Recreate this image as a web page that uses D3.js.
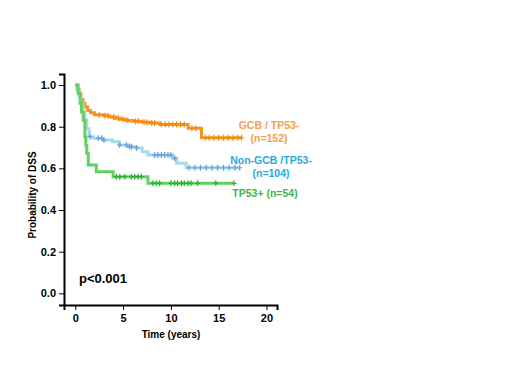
<!DOCTYPE html>
<html>
<head>
<meta charset="utf-8">
<script src="https://cdn.jsdelivr.net/npm/d3@7"></script>
<style>
  body { margin: 0; background: #fff; }
  svg { display: block; font-family: "Liberation Sans", Arial, sans-serif; }
</style>
</head>
<body>
<svg id="drawing_region"></svg>
<script>
// Kaplan-Meier steps: [time (years), survival]
const gcbSteps = [[0, 1.0], [0.2, 0.98], [0.4, 0.955], [0.6, 0.93], [0.8, 0.912], [1.0, 0.895],
  [1.3, 0.878], [1.6, 0.867], [2.0, 0.857], [3.0, 0.852], [3.6, 0.846], [4.2, 0.840],
  [4.7, 0.836], [5.3, 0.830], [6.0, 0.826], [7.0, 0.821], [7.8, 0.818], [8.8, 0.811],
  [11.8, 0.792], [13.2, 0.747], [17.4, 0.747]];
const gcbCensor = [2.5, 3.1, 3.4, 4.0, 4.5, 5.0, 5.5, 6.3, 6.6, 7.2, 7.5, 8.0, 8.3, 9.0, 9.4,
  9.8, 10.2, 10.6, 11.0, 11.4, 12.2, 12.6, 13.6, 14.0, 14.5, 15.0, 15.5, 16.0, 16.5, 17.0, 17.4];

const nonGcbSteps = [[0, 1.0], [0.2, 0.975], [0.4, 0.945], [0.6, 0.91], [0.8, 0.87], [1.0, 0.832],
  [1.2, 0.79], [1.45, 0.752], [1.9, 0.744], [2.9, 0.736], [3.9, 0.728], [4.6, 0.712],
  [5.5, 0.704], [6.4, 0.698], [7.0, 0.680], [7.6, 0.664], [10.2, 0.648], [10.6, 0.624],
  [11.6, 0.603], [17.2, 0.603]];
const nonGcbCensor = [1.55, 2.4, 2.75, 3.0, 4.65, 5.35, 5.7, 5.9, 6.4, 8.3, 8.65, 9.0, 9.35,
  9.7, 10.0, 10.4, 11.9, 12.5, 13.1, 13.7, 14.3, 14.9, 15.5, 16.1, 16.7, 17.2];

const tp53Steps = [[0, 1.0], [0.3, 0.96], [0.5, 0.912], [0.65, 0.87], [0.83, 0.832], [1.0, 0.752],
  [1.1, 0.71], [1.2, 0.672], [1.36, 0.616], [2.2, 0.584], [3.96, 0.560], [7.6, 0.528],
  [16.6, 0.528]];
const tp53Censor = [4.3, 4.66, 5.18, 5.87, 6.22, 6.57, 6.91, 8.13, 8.47, 8.82, 10.0, 10.4,
  10.7, 11.1, 11.4, 11.8, 12.1, 12.8, 14.7, 16.6];

const xTicks = [0, 5, 10, 15, 20];
const yTicks = [0, 0.2, 0.4, 0.6, 0.8, 1.0];

const groups = [
  { steps: gcbSteps, censor: gcbCensor, line: "#f7931e", mark: "#f28a10",
    label: ["GCB / TP53-", "(n=152)"], text: "#f4a04c", lx: 269, ly: 129 },
  { steps: nonGcbSteps, censor: nonGcbCensor, line: "#a6d9ec", mark: "#6c9fd8",
    label: ["Non-GCB /TP53-", "(n=104)"], text: "#29a8e0", lx: 271, ly: 164 },
  { steps: tp53Steps, censor: tp53Censor, line: "#62d062", mark: "#2fae3a",
    label: ["TP53+ (n=54)"], text: "#3cb64a", lx: 265, ly: 197 }
];

const width = 520, height = 390;
const svg = d3.select("#drawing_region").attr("width", width).attr("height", height);

const xscale = d3.scaleLinear().domain([-1.18, 21.1]).range([64, 277]);
const yscale = d3.scaleLinear().domain([-0.056, 1.053]).range([305, 74]);

// axes
const xaxis = d3.axisBottom(xscale).tickValues(xTicks).tickSizeOuter(0).tickSize(5).tickPadding(4);
const yaxis = d3.axisLeft(yscale).tickValues(yTicks).tickSizeOuter(0).tickSize(5)
  .tickPadding(3).tickFormat(d3.format(".1f"));

const xg = svg.append("g").attr("transform", "translate(0,305)").call(xaxis);
const yg = svg.append("g").attr("transform", "translate(64,0)").call(yaxis);
[xg, yg].forEach(g => {
  g.select(".domain").attr("stroke", "#000").attr("stroke-width", 2);
  g.selectAll(".tick line").attr("stroke", "#000").attr("stroke-width", 1);
  g.selectAll(".tick text").attr("fill", "#000").style("font-size", "11px")
    .style("font-weight", "bold").style("font-family", "'Liberation Sans', Arial, sans-serif");
});

// curves
const line = d3.line()
  .x(d => xscale(d[0]))
  .y(d => yscale(d[1]))
  .curve(d3.curveStepAfter);

function survAt(steps, t) {
  let s = steps[0][1];
  for (const p of steps) { if (p[0] <= t) s = p[1]; }
  return s;
}

groups.forEach(g => {
  svg.append("path").datum(g.steps)
    .attr("fill", "none")
    .attr("stroke", g.line)
    .attr("stroke-width", 3)
    .attr("d", line);

  svg.append("g").selectAll("path").data(g.censor).join("path")
    .attr("stroke", g.mark)
    .attr("stroke-width", 1.2)
    .attr("d", t => {
      const cx = xscale(t), cy = yscale(survAt(g.steps, t));
      return `M${cx},${cy - 3}V${cy + 3}M${cx - 2.5},${cy}H${cx + 2.5}`;
    });

  svg.append("text")
    .attr("x", g.lx).attr("y", g.ly)
    .attr("text-anchor", "middle")
    .attr("fill", g.text)
    .style("font-size", "10.5px").style("font-weight", "bold")
    .selectAll("tspan").data(g.label).join("tspan")
    .attr("x", g.lx).attr("dy", (d, i) => i ? 13 : 0)
    .text(d => d);
});

// titles
svg.append("text")
  .attr("transform", "translate(36,195) rotate(-90)")
  .attr("text-anchor", "middle")
  .style("font-size", "10px").style("font-weight", "bold")
  .text("Probability of DSS");

svg.append("text")
  .attr("x", 171).attr("y", 338)
  .attr("text-anchor", "middle")
  .style("font-size", "10px").style("font-weight", "bold")
  .text("Time (years)");

svg.append("text")
  .attr("x", 79).attr("y", 283)
  .style("font-size", "13px").style("font-weight", "bold")
  .text("p<0.001");
</script>
</body>
</html>
